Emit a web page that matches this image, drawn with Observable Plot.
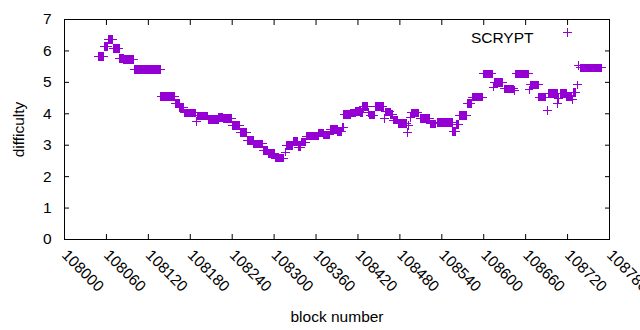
<!DOCTYPE html>
<html><head><meta charset="utf-8">
<script src="https://cdn.jsdelivr.net/npm/d3@7"></script>
<script src="https://cdn.jsdelivr.net/npm/@observablehq/plot@0.6"></script>
<style>body{margin:0;background:#fff}svg{display:block}</style>
</head><body><div id="chart"></div>
<script>
// Runs of blocks sharing the same difficulty (start block, end block, difficulty)
const runStart = [108049,108057,108063,108070,108079,108085,108100,108138,108159,108165,108172,108189,108190,108206,108221,108227,108240,108252,108262,108271,108285,108292,108302,108316,108318,108328,108335,108339,108346,108364,108371,108380,108391,108398,108400,108410,108417,108424,108427,108435,108437,108445,108458,108459,108467,108471,108478,108491,108493,108495,108497,108509,108524,108534,108556,108561,108565,108577,108584,108599,108614,108615,108630,108644,108646,108665,108667,108679,108691,108693,108706,108707,108710,108719,108727,108729,108734,108736,108738];
const runEnd   = [108056,108062,108069,108078,108084,108099,108137,108158,108164,108171,108187,108189,108205,108220,108226,108239,108251,108261,108270,108284,108291,108301,108314,108316,108327,108334,108338,108345,108363,108370,108379,108390,108397,108399,108409,108416,108423,108426,108434,108435,108443,108456,108458,108466,108470,108477,108489,108491,108493,108495,108506,108523,108531,108555,108560,108564,108576,108582,108598,108612,108614,108627,108643,108644,108664,108665,108678,108689,108691,108705,108706,108707,108718,108726,108727,108731,108734,108736,108769];
const runDifficulty = [5.82,6.15,6.36,6.07,5.75,5.72,5.40,4.54,4.32,4.20,4.03,3.75,3.93,3.82,3.89,3.85,3.62,3.41,3.15,3.04,2.83,2.73,2.59,2.78,2.99,3.12,2.94,3.10,3.29,3.39,3.33,3.51,3.44,3.57,3.97,4.02,4.08,4.04,4.24,4.05,3.96,4.23,3.86,4.06,3.98,3.80,3.70,3.41,3.63,3.88,4.03,3.86,3.68,3.73,3.43,3.66,3.95,4.32,4.53,5.27,4.85,5.00,4.79,4.74,5.27,4.76,4.92,4.53,4.10,4.64,4.32,4.49,4.64,4.56,4.45,4.67,4.92,5.54,5.46];
const xTicks = [108000,108060,108120,108180,108240,108300,108360,108420,108480,108540,108600,108660,108720,108780];
const yTicks = [0,1,2,3,4,5,6,7];
const seriesName = "SCRYPT";
const color = "#9400d3";

const points = [];
runStart.forEach((s, i) => {
  for (let b = s; b <= runEnd[i]; b++) points.push({block: b, difficulty: runDifficulty[i]});
});

const chart = Plot.plot({
  width: 640, height: 330,
  marginLeft: 64, marginRight: 31, marginTop: 19, marginBottom: 91,
  style: {fontFamily: "'Liberation Sans', Arial, sans-serif", fontSize: "15.5px", color: "#000", background: "#fff"},
  x: {domain: [108000, 108780]},
  y: {domain: [0, 7]},
  marks: [
    Plot.axisX(xTicks, {anchor: "bottom", tickSize: 5, dy: -5, fill: "none", label: null}),
    Plot.axisX(xTicks, {anchor: "top", tickSize: 5, dy: 5, fill: "none", label: null}),
    Plot.axisX(xTicks, {anchor: "bottom", tickSize: 0, tickPadding: 13, tickRotate: 45, fontSize: 15.5, tickFormat: d => String(d), label: "block number", labelAnchor: "center", labelOffset: 82, labelArrow: "none"}),
    Plot.axisY(yTicks, {anchor: "left", tickSize: 5, dx: 5, fill: "none", label: null}),
    Plot.axisY(yTicks, {anchor: "right", tickSize: 5, dx: -5, fill: "none", label: null}),
    Plot.axisY(yTicks, {anchor: "left", tickSize: 0, tickPadding: 13, label: "difficulty", labelAnchor: "center", labelOffset: 52, labelArrow: "none"}),
    Plot.frame({stroke: "#000"}),
    Plot.dot(points, {x: "block", y: "difficulty", symbol: "plus", r: 2.9, stroke: color, strokeWidth: 1, shapeRendering: "crispEdges"}),
    Plot.text([seriesName], {text: d => d, frameAnchor: "top-right", dx: -76, dy: 12, textAnchor: "end"}),
    Plot.dot([seriesName], {frameAnchor: "top-right", dx: -42, dy: 13, symbol: "plus", r: 2.9, stroke: color, strokeWidth: 1, shapeRendering: "crispEdges"})
  ]
});
document.getElementById("chart").appendChild(chart);
</script>
</body></html>
